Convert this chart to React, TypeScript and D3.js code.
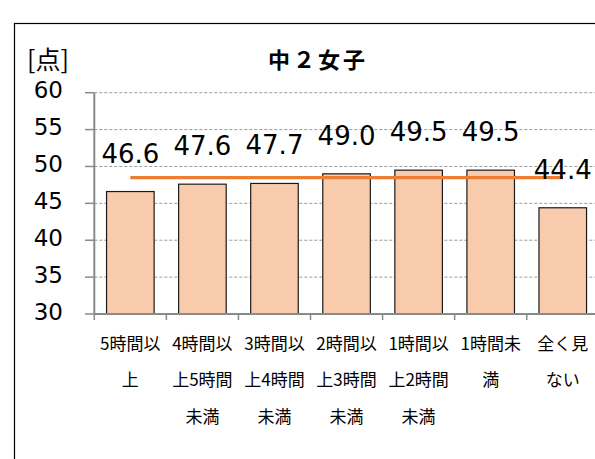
import React from "react";
import * as d3 from "d3";

const categories: string[][] = [
  ["5時間以", "上"],
  ["4時間以", "上5時間", "未満"],
  ["3時間以", "上4時間", "未満"],
  ["2時間以", "上3時間", "未満"],
  ["1時間以", "上2時間", "未満"],
  ["1時間未", "満"],
  ["全く見", "ない"],
];
const values: number[] = [46.6, 47.6, 47.7, 49.0, 49.5, 49.5, 44.4];
const averageValue: number[] = [48.5];
const yTicks: number[] = [30, 35, 40, 45, 50, 55, 60];
const title = "中２女子";
const unitLabel = "[点]";

const W = 595;
const H = 459;
const NUM_FONT = "'DejaVu Sans', Verdana, sans-serif";
const CJK_FONT = "'Noto Sans CJK JP', 'Noto Sans', sans-serif";

export default function App() {
  const keys = categories.map((_, i) => String(i));
  const x = d3
    .scaleBand<string>()
    .domain(keys)
    .range([94.3, 598.8])
    .paddingInner(0.34)
    .paddingOuter(0.17);
  const y = d3.scaleLinear().domain([30, 60]).range([314, 92.7]);
  const step = x.step();
  const x0 = 94.3;
  const yBase = y(30);

  const avgLine = d3.line<number>()
    .x((d) => d)
    .y(() => y(averageValue[0]));
  const firstC = (x(keys[0]) as number) + x.bandwidth() / 2;
  const lastC = (x(keys[keys.length - 1]) as number) + x.bandwidth() / 2;

  return (
    <svg
      width={W}
      height={H}
      style={{ position: "absolute", left: 0, top: 0, background: "#fff" }}
    >
      <rect x={0} y={0} width={W} height={H} fill="#fff" />
      <rect x={14.5} y={23.5} width={620} height={500} fill="#fff" stroke="#000" strokeWidth={1.2} />

      {/* gridlines */}
      {yTicks.slice(1).map((t) => (
        <line
          key={"g" + t}
          x1={x0}
          x2={W}
          y1={y(t)}
          y2={y(t)}
          stroke="#9a9a9a"
          strokeWidth={1}
          strokeDasharray="3,2"
        />
      ))}
      {/* y ticks */}
      {yTicks.map((t) => (
        <line key={"t" + t} x1={85} x2={x0} y1={y(t)} y2={y(t)} stroke="#8a8a8a" strokeWidth={1.5} />
      ))}
      {yTicks.map((t) => (
        <text
          key={"l" + t}
          x={63}
          y={y(t) + 5.5}
          textAnchor="end"
          fontFamily={NUM_FONT}
          fontSize={23}
          fill="#000"
        >
          {t}
        </text>
      ))}

      {/* bars */}
      {values.map((v, i) => (
        <rect
          key={"b" + i}
          x={x(keys[i]) as number}
          y={y(v)}
          width={x.bandwidth()}
          height={yBase - y(v)}
          fill="#F8CBAD"
          stroke="#1a1a1a"
          strokeWidth={1.2}
        />
      ))}

      {/* axes */}
      <line x1={x0} x2={x0} y1={y(60)} y2={yBase} stroke="#8a8a8a" strokeWidth={2} />
      <line x1={x0} x2={W} y1={yBase} y2={yBase} stroke="#8a8a8a" strokeWidth={2} />
      {keys.map((k, i) => (
        <line
          key={"xt" + i}
          x1={x0 + step * i}
          x2={x0 + step * i}
          y1={yBase}
          y2={yBase + 6}
          stroke="#8a8a8a"
          strokeWidth={1.5}
        />
      ))}

      {/* average line */}
      <path d={avgLine([firstC, lastC]) || ""} stroke="#ED7D31" strokeWidth={3.2} fill="none" />

      {/* value labels */}
      {values.map((v, i) => (
        <text
          key={"v" + i}
          x={(x(keys[i]) as number) + x.bandwidth() / 2}
          y={y(v) - 29}
          textAnchor="middle"
          fontFamily={NUM_FONT}
          fontSize={26}
          fill="#000"
        >
          {v.toFixed(1)}
        </text>
      ))}

      {/* category labels */}
      {categories.map((lines, i) =>
        lines.map((ln, j) => (
          <text
            key={"c" + i + "-" + j}
            x={(x(keys[i]) as number) + x.bandwidth() / 2}
            y={350 + j * 36.3}
            textAnchor="middle"
            fontFamily={CJK_FONT}
            fontSize={17}
            fill="#000"
          >
            {ln}
          </text>
        ))
      )}

      {/* title */}
      <text
        x={318}
        y={67.5}
        textAnchor="middle"
        fontFamily={CJK_FONT}
        fontSize={22}
        fontWeight="bold"
        letterSpacing={3}
        fill="#000"
      >
        {title}
      </text>

      {/* unit */}
      <text x={27} y={69} fontFamily={CJK_FONT} fontSize={25} fill="#000">
        {unitLabel}
      </text>
    </svg>
  );
}
